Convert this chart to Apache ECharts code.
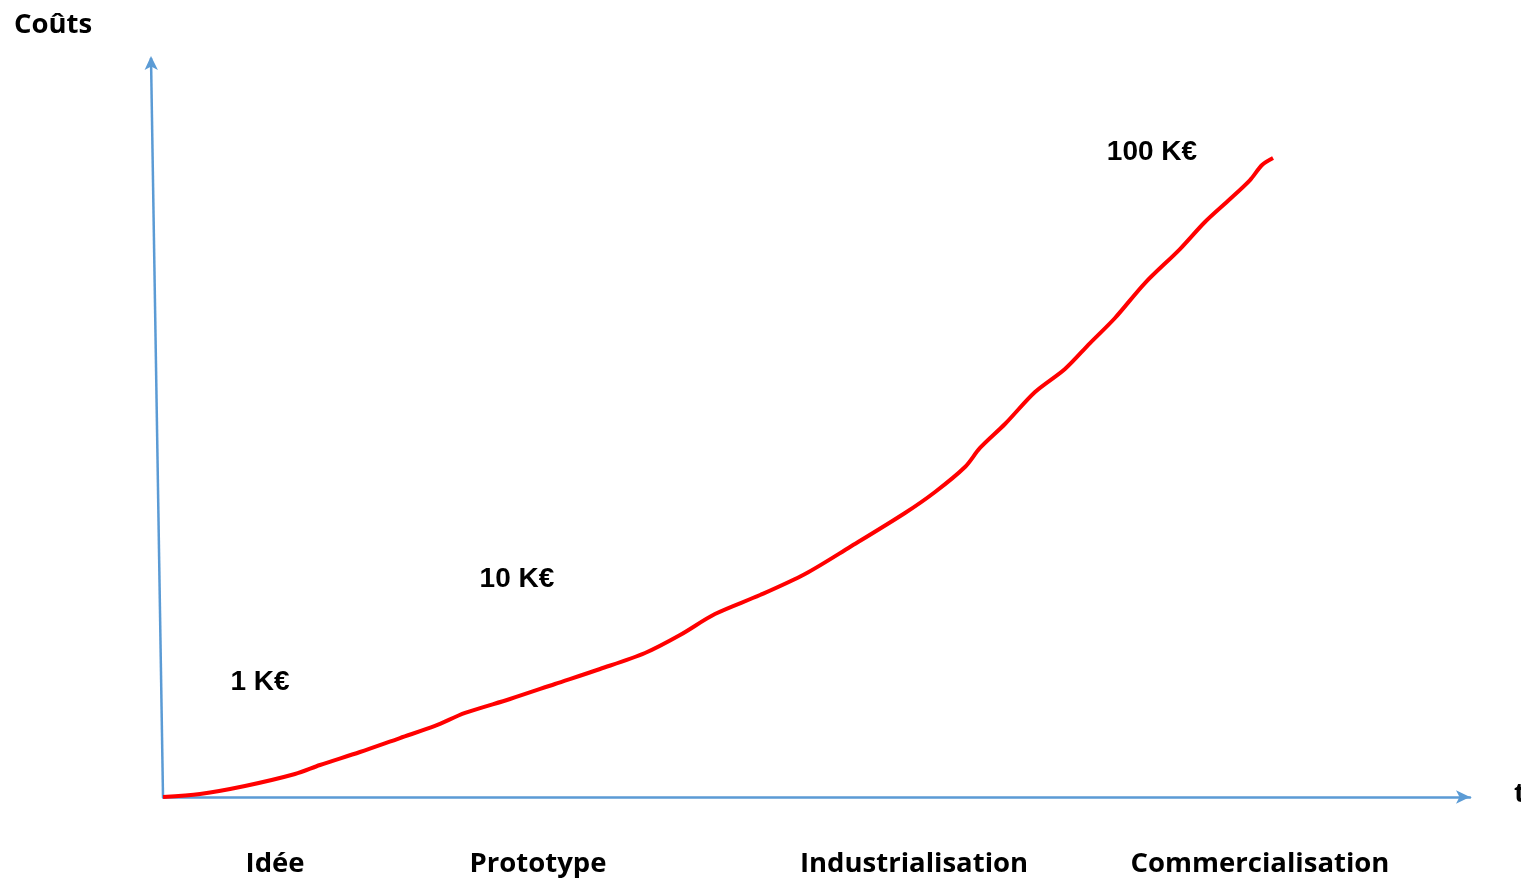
<!DOCTYPE html>
<html>
<head>
<meta charset="utf-8">
<script src="https://cdn.jsdelivr.net/npm/echarts@6/dist/echarts.min.js"></script>
<style>
html,body{margin:0;padding:0;background:#fff;}
#chart{width:1521px;height:878px;}
</style>
</head>
<body>
<div id="chart"></div>
<script>
// Cost curve (time 0..100, cost 0..100, arbitrary units)
const curveX = [0, 2.83, 6.27, 10.10, 12.01, 15.07, 18.13, 20.81, 23.11, 26.55, 29.99, 33.44, 36.88, 39.56, 42.23, 45.68, 49.12, 52.56, 56.77, 59.07, 61.36, 62.51, 64.42, 66.72, 69.01, 70.93, 72.84, 75.13, 77.81, 79.72, 81.64, 83.17, 84.09, 84.93];
const curveY = [0, 0.41, 1.49, 3.11, 4.33, 6.09, 7.98, 9.61, 11.37, 13.26, 15.29, 17.32, 19.49, 21.92, 24.76, 27.33, 30.18, 33.83, 38.43, 41.27, 44.65, 47.23, 50.47, 54.80, 57.92, 61.43, 64.82, 69.55, 74.15, 77.81, 80.92, 83.49, 85.52, 86.47];

// Cost annotations
const costLabels = ['1 K€', '10 K€', '100 K€'];
const costLabelX = [7.42, 27.08, 75.67];
const costLabelY = [15.56, 29.50, 87.28];

// Stage labels along the time axis
const stages = ['Idée', 'Prototype', 'Industrialisation', 'Commercialisation'];
const stageX = [8.57, 28.69, 57.46, 83.93];

const yAxisTopX = -0.92; // the drawn vertical axis leans slightly left
const xAxisEnd = 100;
const yAxisEnd = 100;

const chart = echarts.init(document.getElementById('chart'), null, {renderer: 'canvas'});
const blue = '#5B9BD5';
const hidden = {axisLine: {show: false}, axisTick: {show: false}, axisLabel: {show: false}, splitLine: {show: false}};
const option = {
  animation: false,
  backgroundColor: '#ffffff',
  grid: [
    {left: 151, right: 51, top: 58, bottom: 81, containLabel: false},
    {left: 163, right: 51, top: 58, bottom: 81, containLabel: false}
  ],
  xAxis: [
    Object.assign({type: 'value', min: yAxisTopX, max: xAxisEnd, gridIndex: 0}, hidden),
    {
      type: 'value', min: 0, max: xAxisEnd, gridIndex: 1,
      axisLine: {show: true, lineStyle: {color: blue, width: 2.5}, symbol: ['none', 'arrow'], symbolSize: [10, 14]},
      axisTick: {show: false}, axisLabel: {show: false}, splitLine: {show: false}
    }
  ],
  yAxis: [
    Object.assign({type: 'value', min: 0, max: yAxisEnd, gridIndex: 0}, hidden),
    Object.assign({type: 'value', min: 0, max: yAxisEnd, gridIndex: 1}, hidden)
  ],
  graphic: [
    {type: 'text', left: 14, top: 11, style: {text: 'Coûts', fontSize: 27.5, fontWeight: 'bold', fontFamily: 'Open Sans', fill: '#000'}},
    {type: 'text', left: 1514, top: 780, style: {text: 't', fontSize: 27.5, fontWeight: 'bold', fontFamily: 'Open Sans', fill: '#000'}}
  ],
  series: [
    {
      // vertical (cost) axis with arrow
      type: 'line',
      data: [
        {value: [0, 0], symbol: 'none'},
        {value: [yAxisTopX, yAxisEnd], symbol: 'arrow', symbolSize: [10, 14], symbolRotate: 1, symbolOffset: [0, -2]}
      ],
      showSymbol: true,
      showAllSymbol: true,
      itemStyle: {color: blue, opacity: 1},
      lineStyle: {color: blue, width: 2.5},
      clip: false,
      silent: true,
      z: 2
    },
    {
      type: 'line',
      data: curveX.map((x, i) => [x, curveY[i]]),
      smooth: 0.3,
      showSymbol: false,
      lineStyle: {color: '#FF0000', width: 4},
      clip: false,
      z: 5
    },
    {
      type: 'scatter',
      data: costLabelX.map((x, i) => ({value: [x, costLabelY[i]], name: costLabels[i]})),
      symbolSize: 0,
      clip: false,
      itemStyle: {opacity: 1},
      label: {show: true, position: 'inside', formatter: p => p.name, fontWeight: 'bold', fontSize: 28, fontFamily: 'Liberation Sans', color: '#000'}
    },
    {
      type: 'scatter',
      data: stageX.map((x, i) => ({value: [x, 0], name: stages[i]})),
      symbolSize: 0,
      clip: false,
      itemStyle: {opacity: 1},
      label: {show: true, position: 'bottom', distance: 53, formatter: p => p.name, fontWeight: 'bold', fontSize: 27.5, fontFamily: 'Open Sans', color: '#000'}
    }
  ]
};
chart.setOption(option);
</script>
</body>
</html>
